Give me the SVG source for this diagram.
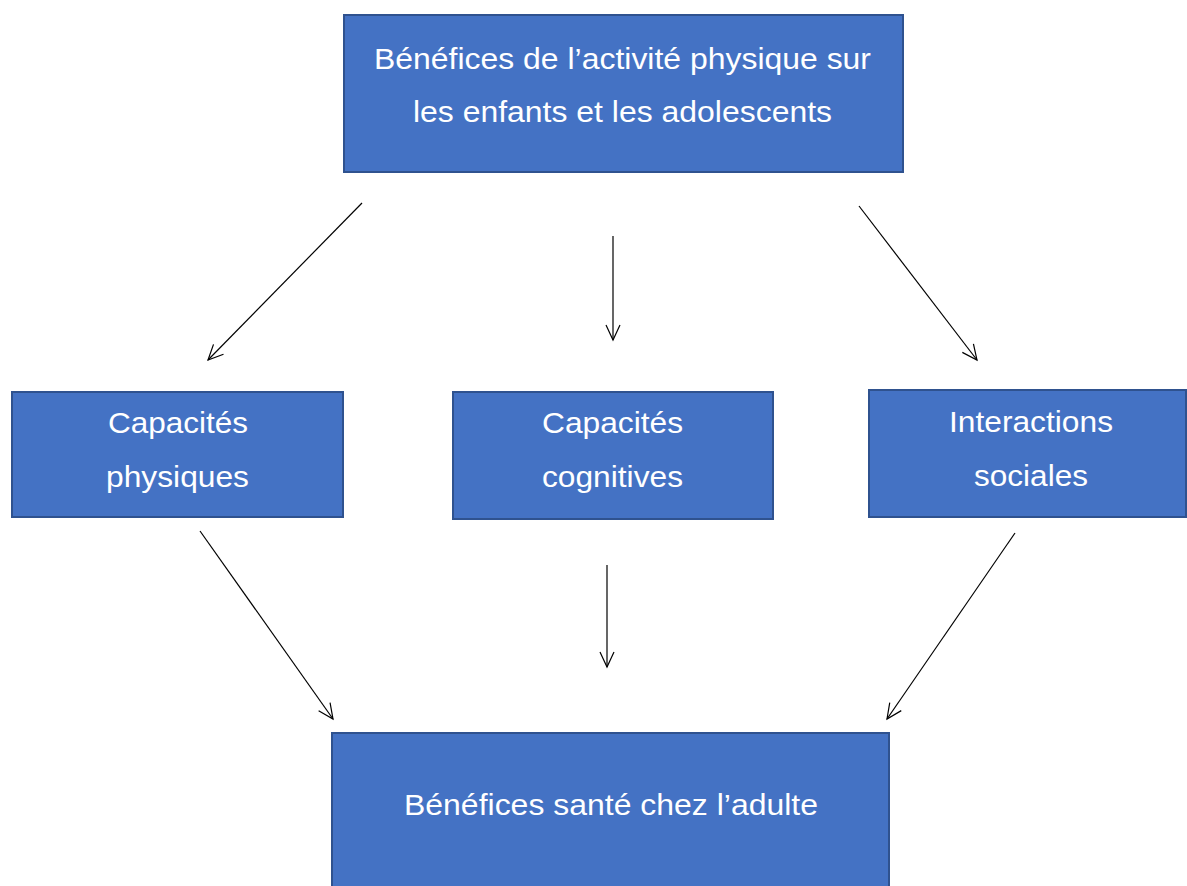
<svg xmlns="http://www.w3.org/2000/svg" width="1187" height="886" viewBox="0 0 1187 886">
<style>
.box{fill:#4472C4;stroke:#2F528F;stroke-width:2}
.t{font-family:"Liberation Sans",Arial,sans-serif;font-size:29.5px;fill:#fff;text-anchor:middle}
.c{stroke:#000;stroke-width:1.2;fill:none}
</style>
<defs>
<marker id="ah" markerUnits="userSpaceOnUse" markerWidth="20" markerHeight="20" refX="16" refY="8" orient="auto" viewBox="0 0 20 16">
<path d="M1,1 L16,8 L1,15" fill="none" stroke="#000" stroke-width="1.2"/>
</marker>
</defs>
<rect width="1187" height="886" fill="#fff"/>
<g id="top">
<rect class="box" x="344" y="15" width="559" height="157"/>
<text class="t" x="622.5" y="69" textLength="497" lengthAdjust="spacingAndGlyphs">Bénéfices de l’activité physique sur</text>
<text class="t" x="622.5" y="122" textLength="419" lengthAdjust="spacingAndGlyphs">les enfants et les adolescents</text>
</g>
<g id="physiques">
<rect class="box" x="12" y="392" width="331" height="125"/>
<text class="t" x="178" y="433" textLength="140" lengthAdjust="spacingAndGlyphs">Capacités</text>
<text class="t" x="177.5" y="487" textLength="143" lengthAdjust="spacingAndGlyphs">physiques</text>
</g>
<g id="cognitives">
<rect class="box" x="453" y="392" width="320" height="127"/>
<text class="t" x="612.5" y="433" textLength="141" lengthAdjust="spacingAndGlyphs">Capacités</text>
<text class="t" x="612.5" y="487" textLength="141" lengthAdjust="spacingAndGlyphs">cognitives</text>
</g>
<g id="sociales">
<rect class="box" x="869" y="390" width="317" height="127"/>
<text class="t" x="1031" y="432" textLength="164" lengthAdjust="spacingAndGlyphs">Interactions</text>
<text class="t" x="1031" y="486" textLength="114" lengthAdjust="spacingAndGlyphs">sociales</text>
</g>
<g id="adulte">
<rect class="box" x="332" y="733" width="557" height="160"/>
<text class="t" x="611" y="815" textLength="414" lengthAdjust="spacingAndGlyphs">Bénéfices santé chez l’adulte</text>
</g>
<g id="connectors">
<line class="c" x1="362" y1="203" x2="208" y2="360" marker-end="url(#ah)"/>
<line class="c" x1="613" y1="236" x2="613" y2="340" marker-end="url(#ah)"/>
<line class="c" x1="859" y1="206" x2="977" y2="360" marker-end="url(#ah)"/>
<line class="c" x1="200" y1="531" x2="333" y2="719" marker-end="url(#ah)"/>
<line class="c" x1="607" y1="565" x2="607" y2="667" marker-end="url(#ah)"/>
<line class="c" x1="1015" y1="533" x2="887" y2="719" marker-end="url(#ah)"/>
</g>
</svg>
